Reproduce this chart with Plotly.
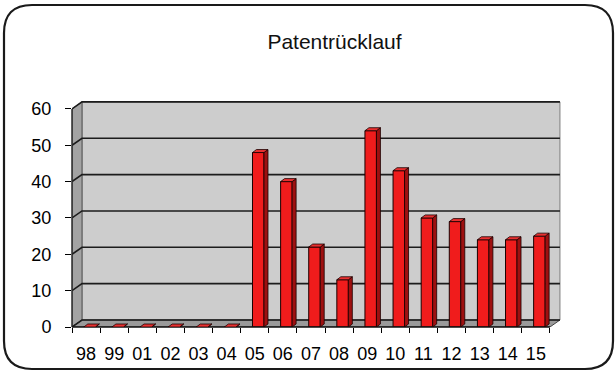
import plotly.graph_objects as go

# ---- data -------------------------------------------------------------
years = ["98", "99", "01", "02", "03", "04", "05", "06", "07",
         "08", "09", "10", "11", "12", "13", "14", "15"]
returns = [0, 0, 0, 0, 0, 0, 48, 40, 22, 13, 54, 43, 30, 29, 24, 24, 25]
value_ticks = [0, 10, 20, 30, 40, 50, 60]
chart_title = "Patentrücklauf"

# ---- layout constants -------------------------------------------------
W, H = 616, 371
ML, MR, MT, MB = 72, 52, 98, 44
X_RANGE = [-0.5, len(years)]          # extra room on the right for depth
Y_RANGE = [0, 63]                     # extra room on top for depth
FONT = "Liberation Sans, Arial, sans-serif"

PW, PH = W - ML - MR, H - MT - MB
PX = PW / (X_RANGE[1] - X_RANGE[0])   # pixels per category
PY = PH / (Y_RANGE[1] - Y_RANGE[0])   # pixels per value unit

DEPTH_X, DEPTH_Y = 10, 7              # oblique depth of walls (px)
BAR_W_PX, BAR_SHIFT_PX = 11.5, 3.5    # front face width, shift into depth
BAR_D_X, BAR_D_Y = 4, 3               # bar depth (px)

WALL = "#cdcdcd"
SIDE_WALL = "#a3a3a3"
FLOOR = "#9a9a9a"
RED = "#f01c1c"
RED_SIDE = "#9e1010"
RED_TOP = "#e83030"

dxd, dyd = DEPTH_X / PX, DEPTH_Y / PY
x0, x1 = -0.5, len(years) - 0.5
ytop = max(value_ticks)

shapes = []

# back wall, left wall, floor
shapes.append(dict(
    type="path", xref="x", yref="y", layer="below",
    path=f"M{x0+dxd},{dyd} L{x1+dxd},{dyd} L{x1+dxd},{ytop+dyd} L{x0+dxd},{ytop+dyd} Z",
    fillcolor=WALL, line=dict(color="#7d7d7d", width=1)))
shapes.append(dict(
    type="path", xref="x", yref="y", layer="below",
    path=f"M{x0},0 L{x0+dxd},{dyd} L{x0+dxd},{ytop+dyd} L{x0},{ytop} Z",
    fillcolor=SIDE_WALL, line=dict(color="#555555", width=1)))
shapes.append(dict(
    type="path", xref="x", yref="y", layer="below",
    path=f"M{x0},0 L{x1},0 L{x1+dxd},{dyd} L{x0+dxd},{dyd} Z",
    fillcolor=FLOOR, line=dict(color="#444444", width=1)))

# gridlines running across the left wall and the back wall
for v in value_ticks:
    shapes.append(dict(
        type="path", xref="x", yref="y", layer="below",
        path=f"M{x0},{v} L{x0+dxd},{v+dyd} L{x1+dxd},{v+dyd}",
        line=dict(color="#1c1c1c", width=1.6)))

# front edges of the box
shapes.append(dict(type="line", xref="paper", yref="y", x0=0, x1=0,
                   y0=0, y1=ytop, layer="above",
                   line=dict(color="#2a2a2a", width=1.5)))
shapes.append(dict(type="line", xref="x", yref="paper", x0=x0, x1=x1,
                   y0=0, y1=0, layer="above",
                   line=dict(color="#111111", width=1.5)))

# 3D faces of the columns
bw = BAR_W_PX / PX
boff = BAR_SHIFT_PX / PX - bw / 2
sd, sdy = BAR_D_X / PX, BAR_D_Y / PY
for i, v in enumerate(returns):
    xl = i + boff
    xr = xl + bw
    shapes.append(dict(
        type="path", xref="x", yref="y", layer="above",
        path=f"M{xr},0 L{xr},{v} L{xr+sd},{v+sdy} L{xr+sd},{sdy} Z",
        fillcolor=RED_SIDE, line=dict(color="#1a0000", width=0.8)))
    shapes.append(dict(
        type="path", xref="x", yref="y", layer="above",
        path=f"M{xl},{v} L{xr},{v} L{xr+sd},{v+sdy} L{xl+sd},{v+sdy} Z",
        fillcolor=RED_TOP, line=dict(color="#1a0000", width=0.8)))


# rounded frame around the whole chart (pixel offsets from the plot origin)
def rel(X, Y):
    return X - ML, (H - MB) - Y


L_, T_, R_, B_, RAD = 4, 5, 613, 369, 28
pts = [
    ("M", [(L_ + RAD, T_)]),
    ("L", [(R_ - RAD, T_)]),
    ("Q", [(R_, T_), (R_, T_ + RAD)]),
    ("L", [(R_, B_ - RAD)]),
    ("Q", [(R_, B_), (R_ - RAD, B_)]),
    ("L", [(L_ + RAD, B_)]),
    ("Q", [(L_, B_), (L_, B_ - RAD)]),
    ("L", [(L_, T_ + RAD)]),
    ("Q", [(L_, T_), (L_ + RAD, T_)]),
]
frame_path = ""
for cmd, coords in pts:
    frame_path += cmd + " ".join(f"{rel(*c)[0]},{rel(*c)[1]}" for c in coords) + " "
frame_path += "Z"
shapes.append(dict(
    type="path", xref="paper", yref="paper", xsizemode="pixel", ysizemode="pixel",
    xanchor=0, yanchor=0, path=frame_path, layer="above",
    line=dict(color="#1a1a1a", width=2.2)))

fig = go.Figure()
fig.add_trace(go.Bar(
    x=years, y=returns, width=bw, offset=boff,
    marker=dict(color=RED, line=dict(color="#1a0000", width=1)),
    hoverinfo="x+y"))

fig.update_layout(
    width=W, height=H,
    margin=dict(l=ML, r=MR, t=MT, b=MB, pad=0, autoexpand=False),
    paper_bgcolor="white", plot_bgcolor="rgba(0,0,0,0)",
    showlegend=False,
    font=dict(family=FONT, color="black", size=18),
    title=dict(text=chart_title, font=dict(family=FONT, size=21, color="#111111"),
               xref="container", yref="container", automargin=False,
               x=334.5 / W, y=1 - 42 / H, xanchor="center", yanchor="middle"),
    shapes=shapes,
    xaxis=dict(type="category", range=X_RANGE, tickson="boundaries",
               ticks="outside", ticklen=5, tickcolor="black", tickwidth=1,
               tickangle=0, automargin=False,
               showgrid=False, showline=False, zeroline=False,
               tickfont=dict(size=18), ticklabelstandoff=14, fixedrange=True),
    yaxis=dict(range=Y_RANGE, tickvals=value_ticks, ticks="outside",
               ticklen=6, tickcolor="black", tickwidth=1, automargin=False,
               showgrid=False, showline=False, zeroline=False,
               tickfont=dict(size=18), ticklabelstandoff=10, fixedrange=True),
)

fig.write_html("out.html")
